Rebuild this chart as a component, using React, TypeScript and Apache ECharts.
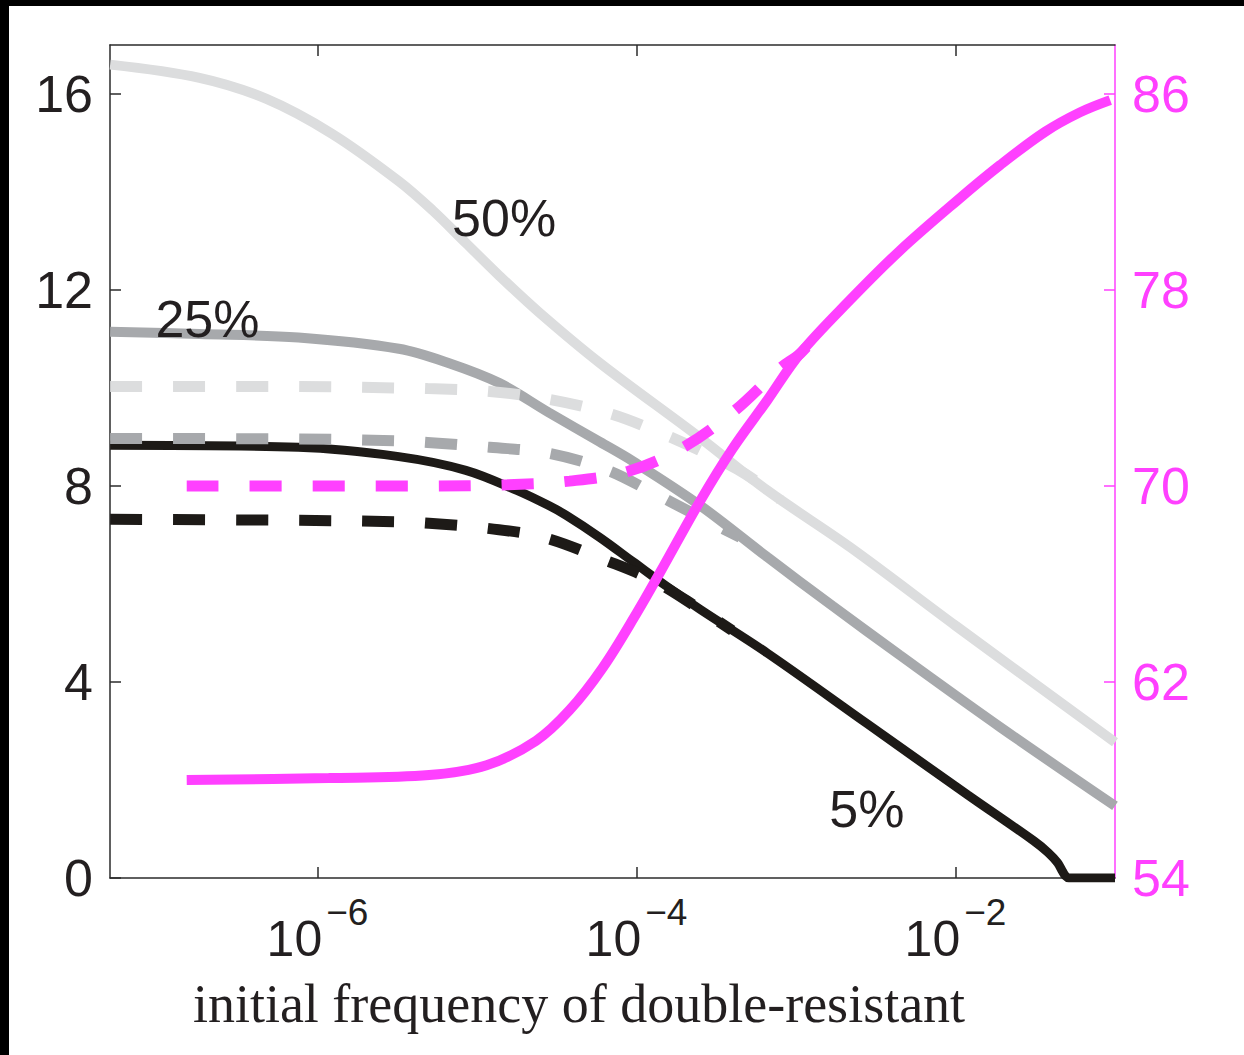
import React, { useEffect, useRef } from "react";
import * as echarts from "echarts";

// x values are log10(initial frequency of double-resistant)
const X_MIN = -7.30103; // log10(5e-8)
const X_MAX = -1; // log10(0.1)
const xTickExponents = [-6, -4, -2];
const leftTicks = [0, 4, 8, 12, 16];
const rightTicks = [54, 62, 70, 78, 86];

// 50% (light grey, solid)
const light50X = [-7.3, -6.74, -6.32, -5.91, -5.49, -5.28, -5.07, -4.86, -4.61, -4.23, -3.6, -3.18, -2.66, -2.0, -1.0];
const light50Y = [16.6, 16.33, 15.9, 15.19, 14.22, 13.63, 12.96, 12.29, 11.54, 10.51, 8.98, 7.91, 6.75, 5.15, 2.77];
// 25% (mid grey, solid)
const mid25X = [-7.3, -6.74, -6.12, -5.49, -5.17, -4.86, -4.55, -4.23, -4.02, -3.6, -3.18, -2.77, -2.35, -1.72, -1.0];
const mid25Y = [11.15, 11.1, 11.03, 10.8, 10.5, 10.1, 9.5, 8.9, 8.5, 7.6, 6.55, 5.55, 4.55, 3.08, 1.47];
// 5% (black, solid)
const dark5X = [-7.3, -6.12, -5.49, -5.07, -4.75, -4.55, -4.44, -4.23, -4.02, -3.81, -3.6, -3.18, -2.55, -1.925, -1.51, -1.42, -1.36, -1.33, -1.31, -1.29, -1.0];
const dark5Y = [8.83, 8.79, 8.6, 8.32, 7.91, 7.6, 7.4, 6.95, 6.45, 5.95, 5.48, 4.59, 3.14, 1.7, 0.76, 0.52, 0.31, 0.14, 0.04, 0, 0];
// dashed counterparts
const lightDashX = [-7.3, -6.12, -5.49, -5.31, -4.92, -4.55, -4.17, -3.89, -3.6, -3.32, -3.1];
const lightDashY = [10.03, 10.03, 10.0, 9.99, 9.93, 9.77, 9.48, 9.14, 8.72, 8.25, 7.72];
const midDashX = [-7.3, -6.12, -5.49, -5.31, -4.92, -4.55, -4.18, -3.9, -3.67, -3.35];
const midDashY = [8.97, 8.96, 8.92, 8.89, 8.79, 8.67, 8.32, 7.87, 7.48, 6.95];
const darkDashX = [-7.3, -6.12, -5.49, -5.3, -4.92, -4.58, -4.19, -3.9, -3.6, -3.4];
const darkDashY = [7.32, 7.3, 7.27, 7.24, 7.13, 6.95, 6.48, 6.08, 5.48, 5.05];
// right axis (magenta)
const magSolidX = [-6.82, -5.93, -5.3, -4.94, -4.63, -4.42, -4.21, -4.0, -3.85, -3.6, -3.4, -3.18, -2.975, -2.66, -2.35, -1.99, -1.72, -1.44, -1.22, -1.03];
const magSolidY = [58.0, 58.08, 58.2, 58.6, 59.6, 60.85, 62.6, 64.8, 66.5, 69.4, 71.5, 73.5, 75.4, 77.6, 79.6, 81.65, 83.1, 84.45, 85.25, 85.75];
const magDashX = [-6.82, -5.3, -4.81, -4.42, -4.05, -3.7, -3.38, -3.1, -2.975, -2.85];
const magDashY = [70.0, 70.0, 70.05, 70.2, 70.6, 71.6, 73.1, 74.8, 75.4, 76.3];

// curve annotations (data coordinates on the left axis)
const annoText = ["50%", "25%", "5%"];
const annoX = [-4.83, -6.69, -2.556];
const annoY = [13.46, 11.4, 1.407];

const xTitle = "initial frequency of double-resistant";

const LIGHT = "#dcddde";
const MID = "#a7a9ac";
const DARK = "#1d1a17";
const MAGENTA = "#ff40ff";
const AXIS = "#2b2b2b";
const TEXT = "#231f20";
const SANS = "'Liberation Sans', Arial, Helvetica, sans-serif";
const SERIF = "'Liberation Serif', 'Times New Roman', serif";
const DASH = [32, 31];

function zip(xs: number[], ys: number[]) {
  return xs.map((x, i) => [x, ys[i]]);
}

function line(name: string, xs: number[], ys: number[], color: string, width: number, dashed: boolean, yAxisIndex = 0) {
  return {
    name,
    type: "line",
    xAxisIndex: 0,
    yAxisIndex,
    data: zip(xs, ys),
    showSymbol: false,
    symbol: "none",
    smooth: 0.35,
    silent: true,
    lineStyle: { color, width, type: dashed ? DASH : "solid", cap: "butt" },
  };
}

function titleGraphic() {
  return {
    type: "text",
    x: 570,
    y: 998,
    silent: true,
    style: {
      text: xTitle,
      fill: TEXT,
      fontSize: 54,
      fontFamily: SERIF,
      align: "center",
      verticalAlign: "middle",
    },
  };
}

function buildOption() {
  const xAxisCommon = {
    type: "value",
    min: X_MIN,
    max: X_MAX,
    splitLine: { show: false },
    axisLine: { show: true, onZero: false, lineStyle: { color: AXIS, width: 1.5 } },
    axisTick: { show: true, inside: true, length: 11, customValues: xTickExponents, lineStyle: { color: AXIS, width: 1.5 } },
  };
  return {
    animation: false,
    backgroundColor: "#ffffff",
    grid: { left: 101, top: 39, right: 129, bottom: 177, containLabel: false },
    xAxis: [
      {
        ...xAxisCommon,
        position: "bottom",
        axisLabel: {
          show: true,
          customValues: xTickExponents,
          margin: 16,
          fontFamily: SANS,
          color: TEXT,
          formatter: (v: number) => `{b|10}{s|\u2212${Math.abs(Math.round(v))}}`,
          rich: {
            b: { fontSize: 50, lineHeight: 70, verticalAlign: "bottom", fontFamily: SANS, color: TEXT },
            s: { fontSize: 37, lineHeight: 20, verticalAlign: "top", fontFamily: SANS, color: TEXT, padding: [0, 0, 0, 4] },
          },
        },
      },
      { ...xAxisCommon, position: "top", axisLabel: { show: false } },
    ],
    yAxis: [
      {
        type: "value",
        position: "left",
        min: 0,
        max: 17,
        splitLine: { show: false },
        axisLine: { show: true, onZero: false, lineStyle: { color: AXIS, width: 1.5 } },
        axisTick: { show: true, inside: true, length: 11, customValues: leftTicks, lineStyle: { color: AXIS, width: 1.5 } },
        axisLabel: { show: true, customValues: leftTicks, margin: 17, fontSize: 52, fontFamily: SANS, color: TEXT },
      },
      {
        type: "value",
        position: "right",
        min: 54,
        max: 88,
        splitLine: { show: false },
        axisLine: { show: true, onZero: false, lineStyle: { color: MAGENTA, width: 1.5 } },
        axisTick: { show: true, inside: true, length: 11, customValues: rightTicks, lineStyle: { color: MAGENTA, width: 1.5 } },
        axisLabel: { show: true, customValues: rightTicks, margin: 17, fontSize: 52, fontFamily: SANS, color: MAGENTA },
      },
    ],
    series: [
      line("50% solid", light50X, light50Y, LIGHT, 10, false),
      line("25% solid", mid25X, mid25Y, MID, 10, false),
      line("5% solid", dark5X, dark5Y, DARK, 9, false),
      line("50% dashed", lightDashX, lightDashY, LIGHT, 11, true),
      line("25% dashed", midDashX, midDashY, MID, 11, true),
      line("5% dashed", darkDashX, darkDashY, DARK, 11, true),
      line("right dashed", magDashX, magDashY, MAGENTA, 11, true, 1),
      line("right solid", magSolidX, magSolidY, MAGENTA, 10, false, 1),
    ],
    graphic: [titleGraphic()],
  };
}

export default function App() {
  const ref = useRef<HTMLDivElement>(null);
  useEffect(() => {
    if (!ref.current) return;
    const chart = echarts.init(ref.current, null, { renderer: "svg" });
    chart.setOption(buildOption() as any);
    // place the curve annotations through the chart's own scales
    const annos = annoText.map((t, i) => {
      const p = chart.convertToPixel({ xAxisIndex: 0, yAxisIndex: 0 }, [annoX[i], annoY[i]]) as number[];
      return {
        type: "text",
        x: p[0],
        y: p[1],
        silent: true,
        z: 100,
        style: {
          text: t,
          fill: TEXT,
          fontSize: 52,
          fontFamily: SANS,
          align: "center",
          verticalAlign: "middle",
        },
      };
    });
    chart.setOption({ graphic: [titleGraphic(), ...annos] } as any);
    return () => chart.dispose();
  }, []);
  return (
    <div
      style={{
        position: "fixed",
        left: 0,
        top: 0,
        width: 1244,
        height: 1055,
        background: "#000",
        overflow: "hidden",
      }}
    >
      <div
        ref={ref}
        style={{ position: "absolute", left: 9, top: 6, width: 1235, height: 1049, background: "#fff" }}
      />
    </div>
  );
}
